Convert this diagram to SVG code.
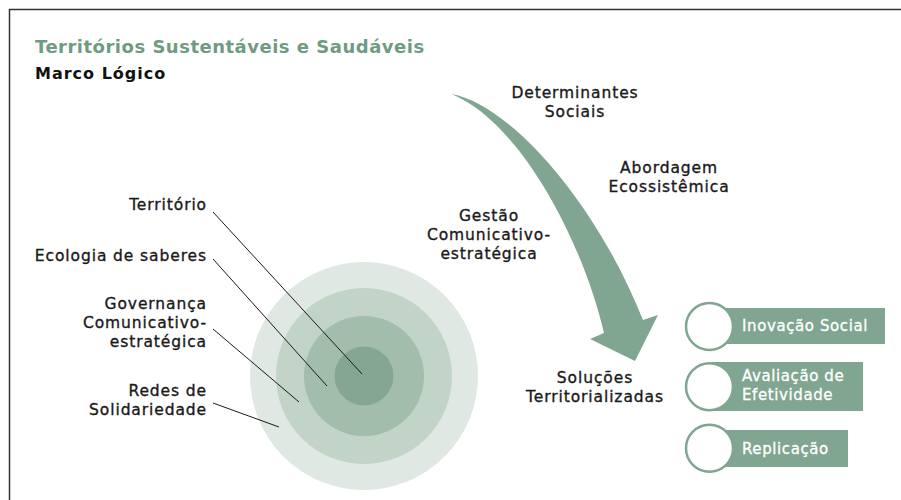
<svg xmlns="http://www.w3.org/2000/svg" width="901" height="500" viewBox="0 0 901 500">
<style>
  text { font-family: "DejaVu Sans", "Liberation Sans", sans-serif; }
  .lbl { font-size: 15.5px; fill: #1a1a1a; stroke: #1a1a1a; stroke-width: 0.35px; letter-spacing: 0.9px; }
  .end { text-anchor: end; }
  .mid { text-anchor: middle; }
  .pilltxt { font-size: 15px; fill: #ffffff; stroke: #ffffff; stroke-width: 0.3px; letter-spacing: 0.6px; }
  .lead { stroke: #1a1a1a; stroke-width: 1; fill: none; }
  .pillrect { fill: #80a590; }
  .pillcirc { fill: #ffffff; stroke: #80a590; stroke-width: 2.5; }
</style>
<rect x="0" y="0" width="901" height="500" fill="#ffffff"/>
<path d="M9.5,500 V9.5 H901" fill="none" stroke="#333333" stroke-width="1.5"/>

<g id="title">
  <text x="35" y="53" font-size="18" font-weight="bold" fill="#6f9b82" letter-spacing="0.5">Territórios Sustentáveis e Saudáveis</text>
  <text x="35" y="79" font-size="16" font-weight="bold" fill="#111111" letter-spacing="1">Marco Lógico</text>
</g>

<g id="circles">
  <circle cx="364" cy="376" r="114" fill="#dfe8e2"/>
  <circle cx="364" cy="376" r="88" fill="#c2d3c8"/>
  <circle cx="364" cy="376" r="60" fill="#a3bdac"/>
  <circle cx="364" cy="376" r="29.5" fill="#84a692"/>
</g>

<g id="connectors">
  <line class="lead" x1="213" y1="212" x2="362" y2="374"/>
  <line class="lead" x1="213" y1="259" x2="327" y2="386"/>
  <line class="lead" x1="213" y1="329" x2="299" y2="402"/>
  <line class="lead" x1="213" y1="403" x2="279" y2="427"/>
</g>

<g id="label-territorio">
  <text class="lbl end" x="207" y="210">Território</text>
</g>
<g id="label-ecologia">
  <text class="lbl end" x="207" y="261">Ecologia de saberes</text>
</g>
<g id="label-governanca">
  <text class="lbl end" x="207" y="309">Governança</text>
  <text class="lbl end" x="207" y="328">Comunicativo-</text>
  <text class="lbl end" x="207" y="347">estratégica</text>
</g>
<g id="label-redes">
  <text class="lbl end" x="207" y="396">Redes de</text>
  <text class="lbl end" x="207" y="415">Solidariedade</text>
</g>

<g id="arrow">
  <path d="M451.7,94 C510,105 595,200 643,320 L658,315 L635,361 L590,339 L604,333 C585,250 525,125 451.7,94 Z" fill="#80a590"/>
</g>

<g id="label-determinantes">
  <text class="lbl mid" x="575" y="98">Determinantes</text>
  <text class="lbl mid" x="575" y="117">Sociais</text>
</g>
<g id="label-abordagem">
  <text class="lbl mid" x="669" y="173">Abordagem</text>
  <text class="lbl mid" x="669" y="192">Ecossistêmica</text>
</g>
<g id="label-gestao">
  <text class="lbl mid" x="489" y="221">Gestão</text>
  <text class="lbl mid" x="489" y="240">Comunicativo-</text>
  <text class="lbl mid" x="489" y="259">estratégica</text>
</g>
<g id="label-solucoes">
  <text class="lbl mid" x="595" y="383">Soluções</text>
  <text class="lbl mid" x="595" y="402">Territorializadas</text>
</g>

<g id="pill-inovacao">
  <rect class="pillrect" x="712" y="308" width="173" height="36"/>
  <circle class="pillcirc" cx="709.5" cy="326.5" r="23.5"/>
  <text class="pilltxt" x="742" y="331">Inovação Social</text>
</g>
<g id="pill-avaliacao">
  <rect class="pillrect" x="712" y="362" width="151" height="49"/>
  <circle class="pillcirc" cx="709.5" cy="386.7" r="23.5"/>
  <text class="pilltxt" x="742" y="381">Avaliação de</text>
  <text class="pilltxt" x="742" y="399.5">Efetividade</text>
</g>
<g id="pill-replicacao">
  <rect class="pillrect" x="712" y="430" width="136" height="37"/>
  <circle class="pillcirc" cx="709.5" cy="448.3" r="23.5"/>
  <text class="pilltxt" x="742" y="454">Replicação</text>
</g>
</svg>
